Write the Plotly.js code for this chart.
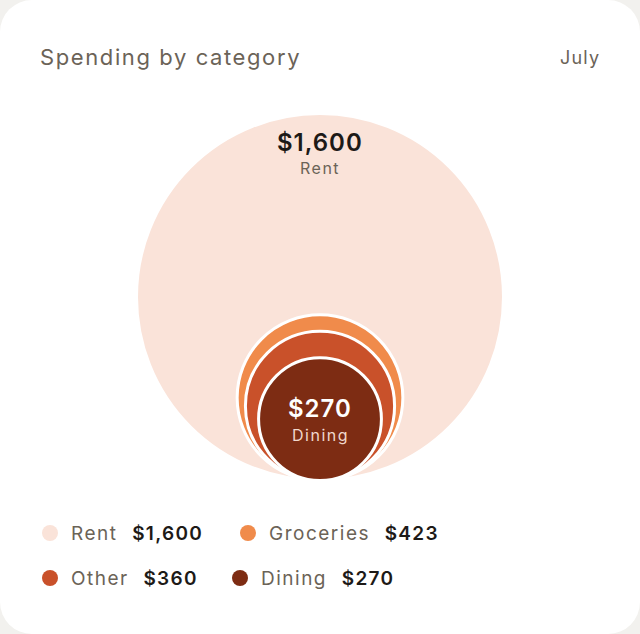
<!DOCTYPE html>
<html>
<head>
<meta charset="utf-8">
<script src="https://cdn.plot.ly/plotly-3.0.1.min.js"></script>
<style>
  html, body { margin: 0; padding: 0; background: #f2f1ee; }
  #card { position: absolute; left: 0; top: 0; width: 640px; height: 634px; background: #ffffff; border-radius: 32px; overflow: hidden; }
  #chart { width: 640px; height: 634px; }
</style>
</head>
<body>
<div id="card"><div id="chart"></div></div>
<script>
// ---- data ----
const categories = ["Rent", "Groceries", "Other", "Dining"];
const amounts = [1600, 423, 360, 270];
const colors = ["#fae3d9", "#f08b4b", "#c9512a", "#7d2c13"];
const chartTitle = "Spending by category";
const periodLabel = "July";

// ---- layout helpers ----
const W = 640, H = 634;
const cx = 320, baseY = 479;
const fontFamily = "Inter, 'Noto Sans', sans-serif";
function radius(v) { return 5.18 * Math.sqrt(v) - 25.2; }
function money(v) { return "$" + v.toLocaleString("en-US"); }
function ls(t, px) { return "<span style='letter-spacing:" + px + "px'>" + t + "</span>"; }
function strong(t, px) { return "<span style='letter-spacing:" + px + "px;font-weight:600'>" + t + "</span>"; }

const traces = categories.map((c, i) => {
  const r = radius(amounts[i]);
  return {
    type: "scatter", mode: "markers",
    x: [cx], y: [baseY - r],
    marker: { size: 2 * (r + 1.5), color: colors[i], line: { color: "#ffffff", width: 3 }, opacity: 1 },
    name: c, hoverinfo: "skip", showlegend: false
  };
});

const annotations = [];
// title + period
annotations.push({ xref: "x", yref: "y", x: 38, y: 57, text: ls(chartTitle, 1.6), showarrow: false, xanchor: "left", yanchor: "middle",
  font: { family: fontFamily, size: 22, color: "#6b6357" } });
annotations.push({ xref: "x", yref: "y", x: 602, y: 57, text: ls(periodLabel, 1.2), showarrow: false, xanchor: "right", yanchor: "middle",
  font: { family: fontFamily, size: 18, color: "#6b6357" } });

// biggest circle label at top, smallest at centre
const rBig = radius(amounts[0]);
const topBig = baseY - 2 * rBig;
annotations.push({ xref: "x", yref: "y", x: cx, y: topBig + 27, text: strong(money(amounts[0]), 1), showarrow: false,
  yanchor: "middle", font: { family: fontFamily, size: 24, color: "#1d1a17" } });
annotations.push({ xref: "x", yref: "y", x: cx, y: topBig + 53, text: ls(categories[0], 1.5), showarrow: false,
  yanchor: "middle", font: { family: fontFamily, size: 16, color: "#6b6357" } });
const last = amounts.length - 1;
const rSm = radius(amounts[last]);
const cSm = baseY - rSm;
annotations.push({ xref: "x", yref: "y", x: cx, y: cSm - 11, text: strong(money(amounts[last]), 1), showarrow: false,
  yanchor: "middle", font: { family: fontFamily, size: 24, color: "#ffffff" } });
annotations.push({ xref: "x", yref: "y", x: cx, y: cSm + 16, text: ls(categories[last], 1.5), showarrow: false,
  yanchor: "middle", font: { family: fontFamily, size: 16, color: "#f1d8cd" } });

// legend
const legendPos = [[50, 533], [248, 533], [50, 578], [240, 578]];
const shapes = [];
categories.forEach((c, i) => {
  const [lx, ly] = legendPos[i];
  shapes.push({ type: "circle", xref: "x", yref: "y", x0: lx - 8, x1: lx + 8, y0: ly - 8, y1: ly + 8,
    fillcolor: colors[i], line: { width: 0 } });
  annotations.push({ xref: "x", yref: "y", x: lx + 19, y: ly, xanchor: "left", yanchor: "middle", showarrow: false,
    text: "<span style='color:#6b6357;letter-spacing:1.5px'>" + c + "</span><span style='letter-spacing:4px'> </span> " + strong(money(amounts[i]), 1.3),
    font: { family: fontFamily, size: 19, color: "#1d1a17" } });
});

const layout = {
  width: W, height: H,
  margin: { l: 0, r: 0, t: 0, b: 0, pad: 0 },
  paper_bgcolor: "rgba(0,0,0,0)", plot_bgcolor: "rgba(0,0,0,0)",
  xaxis: { range: [0, W], visible: false, fixedrange: true },
  yaxis: { range: [H, 0], visible: false, fixedrange: true },
  showlegend: false,
  annotations: annotations,
  shapes: shapes
};
Plotly.newPlot("chart", traces, layout, { displayModeBar: false, staticPlot: true });
</script>
</body>
</html>
